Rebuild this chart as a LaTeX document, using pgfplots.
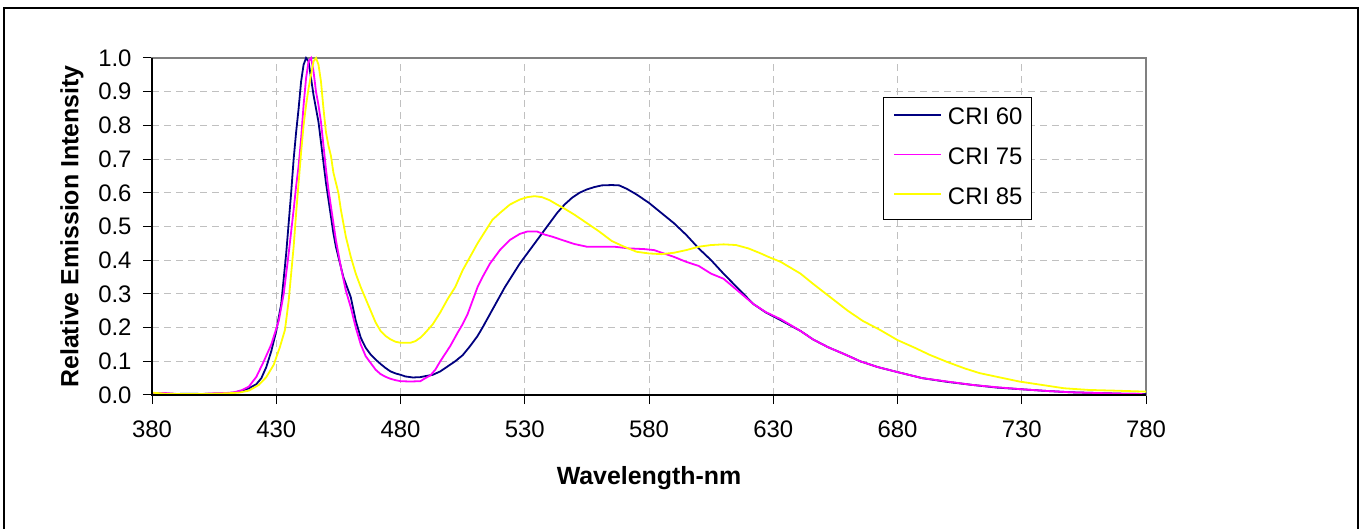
\documentclass[border=0pt]{standalone}
\usepackage{fontspec}
\setmainfont{Liberation Sans}
\usepackage{pgfplots}
\pgfplotsset{compat=1.18}
\definecolor{crisixty}{HTML}{000080}
\definecolor{crisevfive}{HTML}{FF00FF}
\definecolor{crieightfive}{HTML}{FFFF00}
\definecolor{gridgray}{HTML}{C0C0C0}
\definecolor{boxgray}{HTML}{808080}
\begin{document}
\begin{tikzpicture}
\useasboundingbox (0,0) rectangle (1362bp,529bp);
\fill[white] (0,0) rectangle (1362bp,529bp);
\draw[line width=2.5bp] (4bp,-10bp) -- (4bp,521bp) -- (1358bp,521bp) -- (1358bp,-10bp);
\begin{axis}[
  at={(152bp,134bp)}, anchor=south west,
  scale only axis, width=994bp, height=337bp,
  xmin=380, xmax=780, ymin=0, ymax=1,
  xtick={380,430,480,530,580,630,680,730,780},
  ytick={0,0.1,0.2,0.3,0.4,0.5,0.6,0.7,0.8,0.9,1.0},
  /pgf/number format/assume math mode=true,
  yticklabel style={/pgf/number format/.cd, fixed, fixed zerofill, precision=1, /tikz/.cd,
    font=\fontsize{24}{28}\selectfont, inner sep=0pt, anchor=east, xshift=-11.3bp},
  xticklabel style={font=\fontsize{24}{28}\selectfont, inner sep=0pt, anchor=north, yshift=-16.7bp},
  tick pos=left, tick align=outside,
  major tick length=9bp,
  every tick/.style={black, line width=1bp},
  grid=major,
  major grid style={gridgray, line width=1bp, dash pattern=on 7bp off 5bp},
  axis line style={boxgray, line width=2bp},
  clip=false,
  xlabel={Wavelength-nm},
  ylabel={Relative Emission Intensity},
  xlabel style={font=\fontsize{25}{30}\selectfont\bfseries, at={(axis description cs:0.5,-0.2641)}, anchor=base, inner sep=0pt},
  ylabel style={font=\fontsize{25}{30}\selectfont\bfseries, at={(axis description cs:-0.07414,0.5)}, anchor=base, inner sep=0pt},
  legend style={at={(axis description cs:0.7357,0.8834)}, anchor=north west,
    draw=black, line width=1bp, fill=white,
    inner xsep=9.4bp, inner ysep=10bp, row sep=17.5bp,
    nodes={inner sep=0pt, text height=17.2bp, text depth=5bp, font=\fontsize{24}{28}\selectfont}},
  legend cell align=left,
  legend image code/.code={\draw[#1] (0bp,4bp) -- (47bp,4bp); \path (53bp,4bp);},
]
\addplot[crisixty, line width=1.8bp] coordinates {
(380,0.005) (385,0.004) (390,0.003) (395,0.004) (400,0.003) (405,0.004) (410,0.005)
(413,0.007) (416,0.012) (419,0.02) (422,0.032) (424,0.05) (426,0.083) (428,0.13)
(430,0.19) (432,0.27) (434,0.42) (436,0.6) (437,0.7) (438,0.78) (439,0.85) (440,0.93)
(441,0.98) (442,1.0) (443,0.99) (444,0.94) (445,0.89) (446,0.85) (447,0.81) (448,0.75)
(449,0.69) (450,0.63) (451,0.58) (452,0.53) (453,0.48) (454,0.44) (455,0.41) (456,0.38)
(457,0.35) (458,0.33) (460,0.29) (462,0.22) (464,0.17) (466,0.14) (468,0.12) (470,0.105)
(472,0.092) (474,0.08) (476,0.07) (478,0.064) (480,0.06) (482,0.055) (485,0.052)
(488,0.053) (490,0.056) (493,0.06) (496,0.07) (499,0.085) (502,0.1) (505,0.118)
(508,0.145) (511,0.175) (513,0.2) (516,0.24) (519,0.28) (522,0.32) (525,0.355)
(528,0.39) (531,0.42) (534,0.45) (537,0.48) (540,0.51) (543,0.54) (546,0.565)
(549,0.585) (552,0.6) (555,0.61) (558,0.617) (561,0.622) (565,0.623) (568,0.622)
(571,0.612) (575,0.595) (580,0.57) (585,0.54) (590,0.51) (595,0.475) (600,0.435)
(605,0.4) (610,0.36) (614,0.33) (618,0.3) (622,0.27) (627,0.245) (633,0.222)
(641,0.19) (646,0.165) (652,0.142) (659,0.12) (665,0.1) (672,0.083) (680,0.068)
(690,0.05) (700,0.039) (710,0.03) (720,0.022) (730,0.017) (740,0.012) (750,0.008)
(760,0.006) (770,0.004) (780,0.003)
};
\addlegendentry{CRI 60}
\addplot[crisevfive, line width=1.8bp] coordinates {
(380,0.003) (385,0.006) (390,0.003) (395,0.003) (400,0.003) (405,0.005) (410,0.006)
(413,0.008) (416,0.014) (419,0.025) (422,0.054) (425,0.1) (428,0.15) (431,0.22)
(433,0.3) (435,0.42) (437,0.55) (438,0.62) (439,0.68) (440,0.76) (441,0.86) (442,0.94)
(443,0.99) (444,1.0) (445,0.96) (446,0.9) (447,0.86) (448,0.81) (449,0.74) (450,0.67)
(451,0.61) (452,0.56) (453,0.51) (454,0.46) (455,0.42) (456,0.38) (457,0.345) (458,0.31)
(460,0.26) (462,0.2) (464,0.15) (466,0.115) (468,0.095) (470,0.075) (472,0.062)
(474,0.054) (476,0.048) (478,0.044) (480,0.041) (484,0.04) (488,0.041) (490,0.05)
(492,0.058) (494,0.075) (496,0.1) (500,0.145) (503,0.185) (505,0.21) (507,0.24)
(509,0.28) (511,0.32) (513,0.35) (516,0.39) (520,0.43) (524,0.46) (528,0.478)
(531,0.485) (535,0.485) (538,0.476) (541,0.47) (545,0.46) (550,0.448) (555,0.44)
(560,0.44) (566,0.44) (572,0.435) (578,0.433) (582,0.43) (586,0.42) (590,0.41)
(595,0.395) (600,0.383) (605,0.36) (610,0.345) (614,0.32) (618,0.295) (622,0.27)
(627,0.246) (633,0.225) (641,0.19) (646,0.165) (652,0.142) (659,0.12) (665,0.1)
(672,0.083) (680,0.068) (690,0.05) (700,0.04) (710,0.03) (720,0.023) (730,0.017)
(740,0.012) (750,0.008) (760,0.006) (770,0.004) (778,0.003) (780,0.0)
};
\addlegendentry{CRI 75}
\addplot[crieightfive, line width=1.8bp] coordinates {
(380,0.007) (385,0.004) (390,0.003) (395,0.003) (400,0.003) (405,0.004) (410,0.005)
(415,0.007) (419,0.013) (423,0.03) (426,0.053) (429,0.09) (431.5,0.143) (433.5,0.193)
(435,0.28) (436,0.36) (437,0.44) (438,0.54) (439,0.63) (440,0.72) (441,0.8) (442,0.86)
(443,0.91) (444,0.95) (445,0.99) (446,1.0) (447,0.98) (448,0.93) (449,0.85) (450,0.78)
(451,0.74) (452,0.71) (453,0.66) (454,0.63) (455,0.6) (456,0.55) (457,0.51) (458,0.47)
(460,0.41) (462,0.36) (464,0.32) (466,0.285) (468,0.25) (470,0.215) (472,0.19)
(474,0.175) (476,0.165) (478,0.158) (480,0.155) (484,0.155) (486,0.16) (488,0.17)
(490,0.185) (493,0.21) (496,0.245) (499,0.285) (502,0.32) (505,0.37) (508,0.41)
(511,0.45) (514,0.485) (517,0.52) (520,0.54) (524,0.565) (528,0.58) (531,0.587)
(534,0.59) (537,0.587) (540,0.578) (543,0.565) (546,0.553) (550,0.535) (555,0.51)
(560,0.485) (565,0.457) (570,0.44) (575,0.425) (580,0.42) (585,0.418) (590,0.422)
(595,0.43) (600,0.44) (605,0.445) (610,0.447) (615,0.445) (620,0.435) (625,0.42)
(628,0.41) (633,0.395) (641,0.36) (646,0.33) (653,0.29) (660,0.25) (666,0.22)
(673,0.193) (680,0.163) (687,0.14) (693,0.119) (700,0.098) (707,0.079) (713,0.065)
(720,0.054) (729,0.04) (738,0.03) (747,0.02) (757,0.015) (767,0.013) (780,0.01)
};
\addlegendentry{CRI 85}
\draw[black, line width=1.5bp] (rel axis cs:0,1) -- (rel axis cs:0,0) -- (rel axis cs:1,0);
\end{axis}
\end{tikzpicture}
\end{document}
